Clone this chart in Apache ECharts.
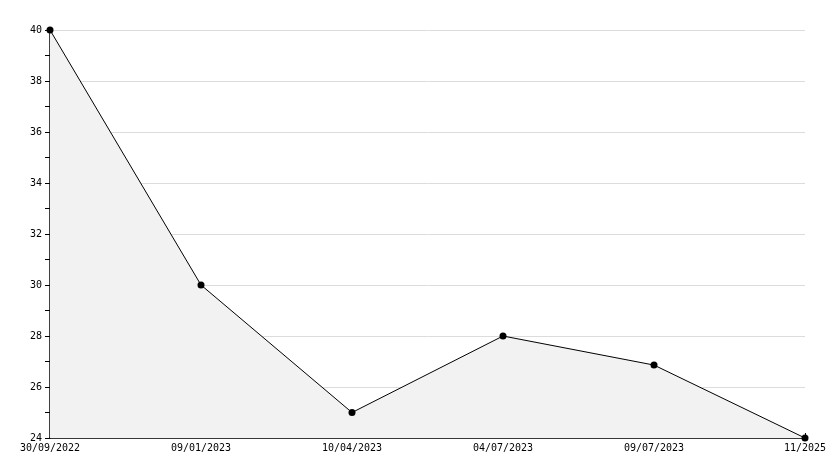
<!DOCTYPE html>
<html>
<head>
<meta charset="utf-8">
<script src="https://cdn.jsdelivr.net/npm/echarts@6/dist/echarts.min.js"></script>
<style>html,body{margin:0;padding:0;background:#fff;}#c{width:834px;height:468px;}</style>
</head>
<body>
<div id="c"></div>
<script>
const categories = ["30/09/2022", "09/01/2023", "10/04/2023", "04/07/2023", "09/07/2023", "11/2025"];
const values = [40, 30, 25, 28, 26.86, 24];
const yMin = 24, yMax = 40, yStep = 2;

const chart = echarts.init(document.getElementById('c'), null, {renderer: 'canvas'});
const font = {fontFamily: 'DejaVu Sans Mono', fontSize: 10, color: '#000'};
chart.setOption({
  animation: false,
  backgroundColor: '#fff',
  grid: {left: 50, right: 29, top: 30, bottom: 30, containLabel: false},
  xAxis: {
    type: 'category',
    data: categories,
    boundaryGap: false,
    z: 5,
    axisLine: {show: true, onZero: false, lineStyle: {color: '#000', width: 1.5}},
    axisTick: {show: true, inside: true, length: 5, lineStyle: {color: '#000', width: 1}},
    axisLabel: Object.assign({margin: 5, interval: 0}, font),
    splitLine: {show: false}
  },
  yAxis: {
    type: 'value',
    min: yMin, max: yMax, interval: yStep,
    z: 5,
    axisLine: {show: true, onZero: false, lineStyle: {color: '#000', width: 1.5}},
    axisTick: {show: true, inside: false, length: 5, lineStyle: {color: '#000', width: 1}},
    minorTick: {show: true, splitNumber: 2, length: 5, lineStyle: {color: '#000', width: 1}},
    axisLabel: Object.assign({margin: 8}, font),
    splitLine: {show: true, lineStyle: {color: '#dcdcdc', width: 1}}
  },
  series: [{
    type: 'line',
    data: values,
    symbol: 'circle',
    symbolSize: 7,
    z: 10,
    itemStyle: {color: '#000'},
    lineStyle: {color: '#000', width: 1},
    areaStyle: {color: '#f2f2f2', opacity: 1, origin: 'start'}
  }]
});
</script>
</body>
</html>
